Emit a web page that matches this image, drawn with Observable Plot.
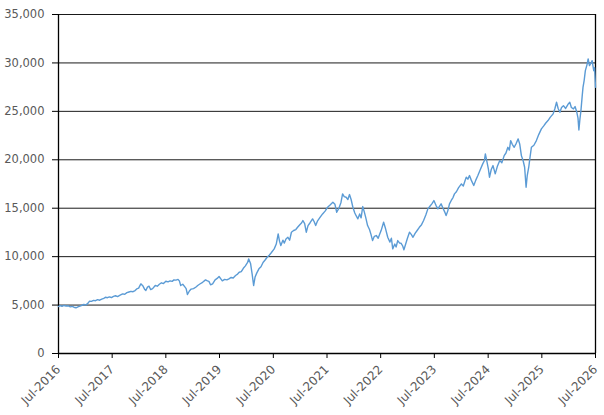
<!DOCTYPE html>
<html>
<head>
<meta charset="utf-8">
<script src="https://cdn.jsdelivr.net/npm/d3@7"></script>
<script src="https://cdn.jsdelivr.net/npm/@observablehq/plot@0.6"></script>
<style>
  html, body { margin: 0; padding: 0; background: #fff; }
  #chart svg { display: block; }
</style>
</head>
<body>
<div id="chart"></div>
<script>
// ---- data ----
const s2016 = [["2016-07-01",4850],["2016-07-12",4950],["2016-07-25",4880],["2016-08-08",4960],["2016-08-22",4900],["2016-09-05",4930],["2016-09-19",4820],["2016-10-03",4860],["2016-10-14",4780],["2016-10-28",4720],["2016-11-10",4820],["2016-11-24",4900],["2016-12-08",4980],["2016-12-20",5060]];
const s2017 = [["2017-01-05",5020],["2017-01-18",5200],["2017-01-28",5400],["2017-02-10",5380],["2017-02-24",5480],["2017-03-10",5450],["2017-03-24",5560],["2017-04-07",5500],["2017-04-21",5620],["2017-05-05",5700],["2017-05-16",5810],["2017-05-30",5760],["2017-06-12",5850],["2017-06-26",5780],["2017-07-10",5900],["2017-07-24",5960],["2017-08-07",5880],["2017-08-21",6000],["2017-09-10",6160],["2017-09-25",6120],["2017-10-09",6280],["2017-10-23",6350],["2017-11-06",6420],["2017-11-20",6380],["2017-12-04",6500],["2017-12-15",6670],["2017-12-28",6750]];
const s2018 = [["2018-01-12",7190],["2018-01-25",7000],["2018-02-08",6600],["2018-02-15",6500],["2018-02-26",6850],["2018-03-09",6950],["2018-03-20",6600],["2018-04-02",6700],["2018-04-20",7020],["2018-05-04",6950],["2018-05-18",7150],["2018-06-01",7300],["2018-06-15",7220],["2018-07-01",7460],["2018-07-16",7400],["2018-07-30",7500],["2018-08-13",7450],["2018-08-25",7600],["2018-09-08",7580],["2018-09-22",7650],["2018-10-01",7500],["2018-10-10",7020],["2018-10-24",7150],["2018-11-06",6900],["2018-11-16",6700],["2018-11-25",6090],["2018-12-08",6450],["2018-12-20",6650]];
const s2019 = [["2019-01-05",6700],["2019-01-20",6840],["2019-02-05",7050],["2019-02-20",7200],["2019-03-08",7350],["2019-03-28",7600],["2019-04-10",7500],["2019-04-20",7450],["2019-05-01",7090],["2019-05-15",7200],["2019-06-01",7600],["2019-06-15",7750],["2019-06-28",7950],["2019-07-10",7700],["2019-07-20",7500],["2019-08-05",7650],["2019-08-20",7600],["2019-09-03",7710],["2019-09-18",7850],["2019-10-02",7800],["2019-10-18",8050],["2019-11-01",8200],["2019-11-12",8390],["2019-11-26",8450],["2019-12-10",8800],["2019-12-24",9050]];
const s2020 = [["2020-01-08",9400],["2020-01-15",9770],["2020-01-28",9300],["2020-02-08",8200],["2020-02-18",7020],["2020-02-28",7900],["2020-03-10",8300],["2020-03-25",8740],["2020-04-08",8950],["2020-04-22",9400],["2020-05-06",9650],["2020-05-20",9940],["2020-06-03",10150],["2020-06-17",10400],["2020-07-07",10800],["2020-07-21",11300],["2020-08-03",12350],["2020-08-12",11600],["2020-08-21",11150],["2020-09-04",11700],["2020-09-14",11400],["2020-09-25",11830],["2020-10-08",12000],["2020-10-20",11700],["2020-11-01",12520],["2020-11-16",12700],["2020-12-01",12800],["2020-12-13",13030],["2020-12-28",13300]];
const s2021 = [["2021-01-10",13500],["2021-01-18",13730],["2021-01-30",13400],["2021-02-10",12520],["2021-02-22",13200],["2021-03-08",13500],["2021-03-25",13900],["2021-04-05",13600],["2021-04-15",13210],["2021-04-28",13700],["2021-05-12",14000],["2021-06-01",14410],["2021-06-18",14700],["2021-07-05",15100],["2021-07-20",15300],["2021-08-10",15610],["2021-08-24",15400],["2021-09-05",14580],["2021-09-20",15000],["2021-10-04",15600],["2021-10-15",16480],["2021-10-26",16200],["2021-11-08",16130],["2021-11-20",15900],["2021-12-01",16410],["2021-12-12",15900],["2021-12-24",15100]];
const s2022 = [["2022-01-06",14500],["2022-01-16",14200],["2022-01-27",13900],["2022-02-08",14400],["2022-02-18",14000],["2022-03-01",15170],["2022-03-12",14600],["2022-03-22",14000],["2022-04-03",13210],["2022-04-16",12800],["2022-04-26",12300],["2022-05-07",11660],["2022-05-19",12100],["2022-06-01",12180],["2022-06-14",11900],["2022-06-24",12300],["2022-07-04",12690],["2022-07-21",13550],["2022-08-03",12900],["2022-08-18",12000],["2022-09-02",11500],["2022-09-12",11900],["2022-09-21",10800],["2022-10-05",11300],["2022-10-14",11000],["2022-10-25",11660],["2022-11-07",11400],["2022-11-17",11380],["2022-11-28",11100],["2022-12-06",10700],["2022-12-18",11300],["2022-12-30",11900]];
const s2023 = [["2023-01-13",12520],["2023-01-25",12300],["2023-02-06",12000],["2023-02-20",12400],["2023-03-06",12700],["2023-03-21",13030],["2023-04-05",13300],["2023-04-19",13730],["2023-05-04",14300],["2023-05-18",14930],["2023-06-01",15200],["2023-06-14",15450],["2023-06-28",15790],["2023-07-12",15300],["2023-07-25",14930],["2023-08-05",15200],["2023-08-16",15450],["2023-08-29",15000],["2023-09-10",14600],["2023-09-19",14240],["2023-09-30",14700],["2023-10-12",15450],["2023-10-24",15800],["2023-11-05",16100],["2023-11-15",16480],["2023-11-28",16700],["2023-12-12",17100]];
const s2024 = [["2024-01-01",17510],["2024-01-14",17300],["2024-01-25",17800],["2024-02-03",18200],["2024-02-14",18000],["2024-02-25",18370],["2024-03-08",17900],["2024-03-25",17340],["2024-04-08",17900],["2024-04-22",18370],["2024-05-06",18900],["2024-05-25",19580],["2024-06-05",19900],["2024-06-12",20610],["2024-06-24",19700],["2024-07-03",19000],["2024-07-10",18200],["2024-07-22",19000],["2024-08-03",19400],["2024-08-18",18550],["2024-09-01",19300],["2024-09-18",19920],["2024-10-02",19700],["2024-10-18",20430],["2024-10-30",20700],["2024-11-12",21290],["2024-11-22",21000],["2024-12-01",21980],["2024-12-12",21600],["2024-12-25",21290]];
const s2025 = [["2025-01-08",21700],["2025-01-21",22160],["2025-02-01",21600],["2025-02-12",20430],["2025-02-24",19900],["2025-03-06",19230],["2025-03-16",17160],["2025-03-24",18400],["2025-04-03",19230],["2025-04-12",20300],["2025-04-21",21290],["2025-05-08",21500],["2025-05-25",21980],["2025-06-10",22600],["2025-06-28",23190],["2025-07-14",23500],["2025-07-28",23800],["2025-08-12",24050],["2025-08-28",24400],["2025-09-16",24740],["2025-09-28",25300],["2025-10-09",25940],["2025-10-20",25300],["2025-11-01",24900],["2025-11-12",25400],["2025-11-25",25590],["2025-12-10",25300],["2025-12-28",25770]];
const s2026 = [["2026-01-07",25940],["2026-01-18",25400],["2026-02-01",25250],["2026-02-12",25500],["2026-02-24",24900],["2026-03-04",24300],["2026-03-10",23080],["2026-03-17",24200],["2026-03-24",25080],["2026-04-01",26500],["2026-04-07",27480],["2026-04-15",28200],["2026-04-23",29200],["2026-05-04",29800],["2026-05-12",30410],["2026-05-21",29720],["2026-06-01",30000],["2026-06-08",30240],["2026-06-19",29200],["2026-06-25",29500],["2026-07-01",27480]];

const xTickDates = ["2016-07-01","2017-07-01","2018-07-01","2019-07-01","2020-07-01","2021-07-01","2022-07-01","2023-07-01","2024-07-01","2025-07-01","2026-07-01"];
const xTickLabels = ["Jul-2016","Jul-2017","Jul-2018","Jul-2019","Jul-2020","Jul-2021","Jul-2022","Jul-2023","Jul-2024","Jul-2025","Jul-2026"];
const yTicks = [0, 5000, 10000, 15000, 20000, 25000, 30000, 35000];

// ---- build table ----
const parse = d3.utcParse("%Y-%m-%d");
const data = [s2016, s2017, s2018, s2019, s2020, s2021, s2022, s2023, s2024, s2025, s2026]
  .flat()
  .map(([d, v]) => ({date: parse(d), value: v}));
const xTicks = xTickDates.map(parse);
const labelOf = new Map(xTicks.map((d, i) => [+d, xTickLabels[i]]));
const xDomain = [xTicks[0], xTicks[xTicks.length - 1]];

const chart = Plot.plot({
  width: 604,
  height: 415,
  marginLeft: 58,
  marginRight: 9,
  marginTop: 14,
  marginBottom: 62,
  style: {fontFamily: "DejaVu Sans, sans-serif", fontSize: "11.5px", background: "#fff"},
  x: {type: "utc", domain: xDomain},
  y: {domain: [0, 35000]},
  marks: [
    Plot.gridY(yTicks.filter(d => d > 0), {stroke: "#000", strokeOpacity: 0.9, strokeWidth: 1}),
    Plot.axisY({ticks: yTicks, tickFormat: d3.format(","), tickSize: 6, tickPadding: 8,
                stroke: "#000", fill: "#595959", label: null}),
    Plot.axisX({ticks: xTicks, tickFormat: d => labelOf.get(+d), tickSize: 5, tickPadding: 9,
                tickRotate: -45, stroke: "#000", fill: "#595959", fontSize: 12, label: null}),
    Plot.ruleX([xDomain[0], xDomain[1]], {y1: 0, y2: 35000, stroke: "#000", strokeWidth: 1.3}),
    Plot.ruleY([0], {stroke: "#000", strokeWidth: 1.5}),
    Plot.lineY(data, {x: "date", y: "value", stroke: "#5b9bd5", strokeWidth: 1.4})
  ]
});
document.getElementById("chart").appendChild(chart);
</script>
</body>
</html>
